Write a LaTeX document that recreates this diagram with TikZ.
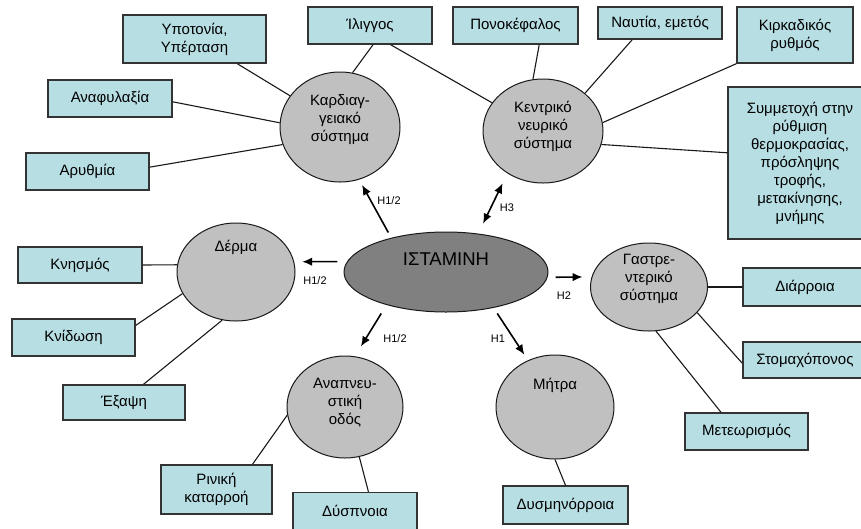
\documentclass[tikz,border=0pt]{standalone}
\usepackage{fontspec}
\setmainfont{Liberation Sans}
\usetikzlibrary{shapes.geometric,arrows.meta}

\definecolor{boxcyan}{HTML}{B7DEE3}
\definecolor{organgray}{HTML}{C0C0C0}
\definecolor{histgray}{HTML}{808080}

\begin{document}
\begin{tikzpicture}[x=1pt,y=-1pt]


\tikzstyle{symptom}=[shape=rectangle, draw=black!80, line width=1.4pt,
    fill=boxcyan, align=center, inner sep=0pt,
    font=\fontsize{15}{18}\selectfont]
\tikzstyle{organ}=[shape=ellipse, draw=black!90, line width=1pt,
    fill=organgray, inner sep=0pt]
\tikzstyle{organtxt}=[align=center, inner sep=0pt,
    font=\fontsize{15}{18}\selectfont]
\tikzstyle{link}=[line width=1.1pt, draw=black!90]
\tikzstyle{effect}=[line width=1.6pt, ->, >={Latex[length=10pt,width=8.5pt]}]
\tikzstyle{receptor}=[inner sep=0pt, font=\fontsize{11}{13}\selectfont]

  \useasboundingbox (0,0) rectangle (861,528);
  \clip (0,0) rectangle (861,528);

  % organs
  \node[organ, minimum width=204pt, minimum height=80pt, fill=histgray] (istamini) at (446,272) {};
  \node[organ, minimum width=120pt, minimum height=110pt] (kardia) at (340,127) {};
  \node[organ, minimum width=120pt, minimum height=104pt] (kns) at (543,131) {};
  \node[organ, minimum width=118pt, minimum height=98pt] (derma) at (236,272) {};
  \node[organ, minimum width=117pt, minimum height=88pt] (gastro) at (649,287) {};
  \node[organ, minimum width=116pt, minimum height=102pt] (anapnoi) at (345,407) {};
  \node[organ, minimum width=118pt, minimum height=104pt] (mitra) at (555,407) {};

  \node[organtxt, font=\fontsize{18.5}{20}\selectfont] (istaminiT) at (446,259) {ΙΣΤΑΜΙΝΗ};
  \node[organtxt] (kardiaT) at (340,120) {Καρδιαγ-\\γειακό\\σύστημα};
  \node[organtxt] (knsT) at (543,126) {Κεντρικό\\νευρικό\\σύστημα};
  \node[organtxt] (dermaT) at (236,247) {Δέρμα};
  \node[organtxt] (gastroT) at (649,279) {Γαστρε-\\ντερικό\\σύστημα};
  \node[organtxt] (anapnoiT) at (345,403) {Αναπνευ-\\στική\\οδός};
  \node[organtxt] (mitraT) at (555,385) {Μήτρα};

  % symptoms
  \node[symptom, minimum width=143pt, minimum height=48pt] (ypotasi) at (194.5,39) {Υποτονία,\\Υπέρταση};
  \node[symptom, minimum width=124pt, minimum height=37pt] (anafylaxia) at (110,98.5) {Αναφυλαξία};
  \node[symptom, minimum width=123pt, minimum height=37pt] (arythmia) at (87.5,171.5) {Αρυθμία};
  \node[symptom, minimum width=124pt, minimum height=37pt] (iliggos) at (370,25.5) {Ίλιγγος};
  \node[symptom, minimum width=125pt, minimum height=37pt] (ponokefalos) at (515.5,25.5) {Πονοκέφαλος};
  \node[symptom, minimum width=124pt, minimum height=32pt] (nautia) at (660,23) {Ναυτία, εμετός};
  \node[symptom, minimum width=116pt, minimum height=56pt] (kirkadikos) at (795,35) {Κιρκαδικός\\ρυθμός};
  \node[symptom, minimum width=144pt, minimum height=152pt] (symmetoxi) at (800,163)
    {Συμμετοχή στην\\ρύθμιση\\θερμοκρασίας,\\πρόσληψης\\τροφής,\\μετακίνησης,\\μνήμης};
  \node[symptom, minimum width=124pt, minimum height=36pt] (knismos) at (80,265) {Κνησμός};
  \node[symptom, minimum width=123pt, minimum height=37pt] (knidosi) at (73.5,337.5) {Κνίδωση};
  \node[symptom, minimum width=122pt, minimum height=35pt] (exapsi) at (124,402.5) {Έξαψη};
  \node[symptom, minimum width=111pt, minimum height=49pt] (riniki) at (216.5,489.5) {Ρινική\\καταρροή};
  \node[symptom, minimum width=124pt, minimum height=37pt] (dyspnoia) at (355,511) {Δύσπνοια};
  \node[symptom, minimum width=125pt, minimum height=38pt] (dysminorroia) at (565.5,505) {Δυσμηνόρροια};
  \node[symptom, minimum width=124pt, minimum height=38pt] (diarroia) at (805,287) {Διάρροια};
  \node[symptom, minimum width=124pt, minimum height=36pt] (stomaxoponos) at (805,360) {Στομαχόπονος};
  \node[symptom, minimum width=123pt, minimum height=37pt] (meteorismos) at (746.5,431.5) {Μετεωρισμός};

  \draw[link] (ypotasi.-30) -- (kardia.148);
  \draw[link] (anafylaxia.-3) -- (kardia.176);
  \draw[link] (arythmia.4) -- (kardia.197);
  \draw[link] (iliggos.-81) -- (kardia.77);
  \draw[link] (iliggos.-43) -- (kns.151);
  \draw[link] (ponokefalos.-39) -- (kns.101);
  \draw[link] (nautia.211) -- (kns.42);
  \draw[link] (kirkadikos.south west) -- (kns.8);
  \draw[link] (symmetoxi.172) -- (kns.347);
  \draw[link] (knismos.east) -- (derma.173);
  \draw[link] (knidosi.11) -- (derma.202);
  \draw[link] (exapsi.43) -- (derma.254);
  \draw[link] (riniki.35) -- (anapnoi.188);
  \draw[link] (dyspnoia.55) -- (anapnoi.286);
  \draw[link] (dysminorroia.north) -- (mitra.south);
  \draw[link] (diarroia.west) -- (gastro.east);
  \draw[link] (stomaxoponos.183) -- (gastro.332);
  \draw[link] (meteorismos.143) -- (gastro.279);

  % receptors
  \draw[effect, shorten <=6pt, shorten >=6pt] (istamini.148) -- (kardia.290);
  \draw[effect, <->, shorten <=11pt, shorten >=11pt] (istamini.50) -- (kns.230);
  \draw[effect, shorten <=9.5pt, shorten >=8pt] (istamini.174) -- (derma.10);
  \draw[effect, shorten <=8pt, shorten >=9pt] (istamini.-3) -- (gastro.170);
  \draw[effect, shorten <=10pt, shorten >=11.5pt] (istamini.209) -- (anapnoi.79);
  \draw[effect, shorten <=6.7pt, shorten >=6.6pt] (istamini.323) -- (mitra.120);

  \node[receptor] (h12a) at (389,201) {H1/2};
  \node[receptor] (h3) at (507,208) {H3};
  \node[receptor] (h12b) at (315,281) {H1/2};
  \node[receptor] (h2) at (564,296) {H2};
  \node[receptor] (h12c) at (395,339) {H1/2};
  \node[receptor] (h1) at (498,339) {H1};

\end{tikzpicture}
\end{document}
